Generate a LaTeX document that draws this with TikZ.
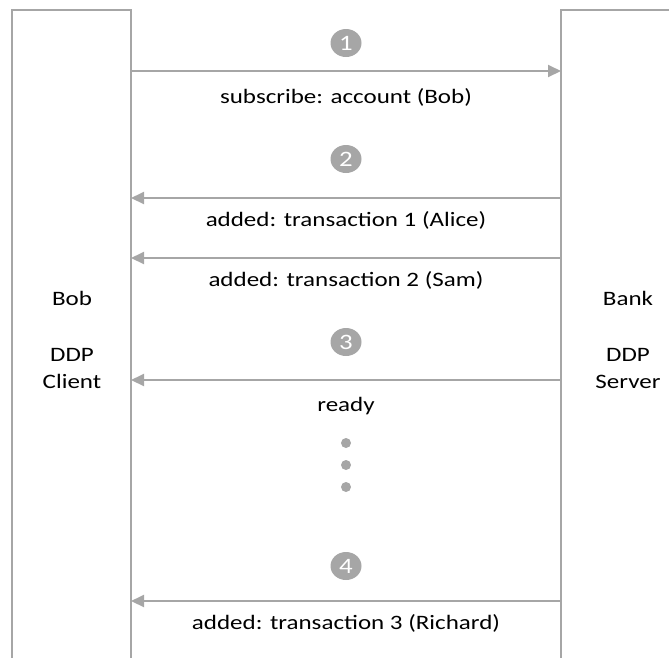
\documentclass[tikz,border=0pt]{standalone}
\usepackage{fontspec}
\setmainfont[FakeStretch=1.22]{Carlito}
\usetikzlibrary{arrows.meta,shapes.geometric}
\definecolor{lgray}{HTML}{A6A6A6}
\begin{document}
\begin{tikzpicture}[x=1pt,y=-1pt,
  box/.style={draw=lgray,line width=2pt},
  msg/.style={draw=lgray,line width=2pt,-{Triangle[length=13pt,width=12pt]}},
  num/.style={ellipse,fill=lgray,minimum width=31pt,minimum height=28pt,inner sep=0pt,text=white,font=\fontsize{22}{24}\selectfont},
  lbl/.style={font=\fontsize{20.5}{25}\selectfont,inner sep=0pt},
  side/.style={font=\fontsize{20.5}{27}\selectfont,align=center,inner sep=0pt},
  dot/.style={circle,fill=lgray,minimum size=10pt,inner sep=0pt}]
\useasboundingbox (0,0) rectangle (669,657);
% lifeline boxes
\draw[box] (12,670) -- (12,10) -- (131,10) -- (131,670);
\draw[box] (561,670) -- (561,10) -- (680,10);
\coordinate (L1) at (131,71);  \coordinate (R1) at (561,71);
\coordinate (L2) at (131,198); \coordinate (R2) at (561,198);
\coordinate (L3) at (131,258); \coordinate (R3) at (561,258);
\coordinate (L4) at (131,380); \coordinate (R4) at (561,380);
\coordinate (L5) at (131,601); \coordinate (R5) at (561,601);
% side labels
\node[side] (bob) at (72,298) {Bob};
\node[side] (cli) at (72,368) {DDP\\Client};
\node[side] (bank) at (628,298) {Bank};
\node[side] (srv) at (628,368) {DDP\\Server};
% step 1
\node[num] (n1) at (346,43) {1};
\draw[msg] (L1) -- (R1);
\node[lbl] (t1) at (346,97) {subscribe: account (Bob)};
% step 2
\node[num] (n2) at (346,159) {2};
\draw[msg] (R2) -- (L2);
\node[lbl] (t2) at (346,220) {added: transaction 1 (Alice)};
\draw[msg] (R3) -- (L3);
\node[lbl] (t3) at (346,280) {added: transaction 2 (Sam)};
% step 3
\node[num] (n3) at (346,342) {3};
\draw[msg] (R4) -- (L4);
\node[lbl] (t4) at (346,406) {ready};
\node[dot] (d1) at (346,443) {};
\node[dot] (d2) at (346,465) {};
\node[dot] (d3) at (346,487) {};
% step 4
\node[num] (n4) at (346,566) {4};
\draw[msg] (R5) -- (L5);
\node[lbl] (t5) at (346,623) {added: transaction 3 (Richard)};
\end{tikzpicture}
\end{document}
